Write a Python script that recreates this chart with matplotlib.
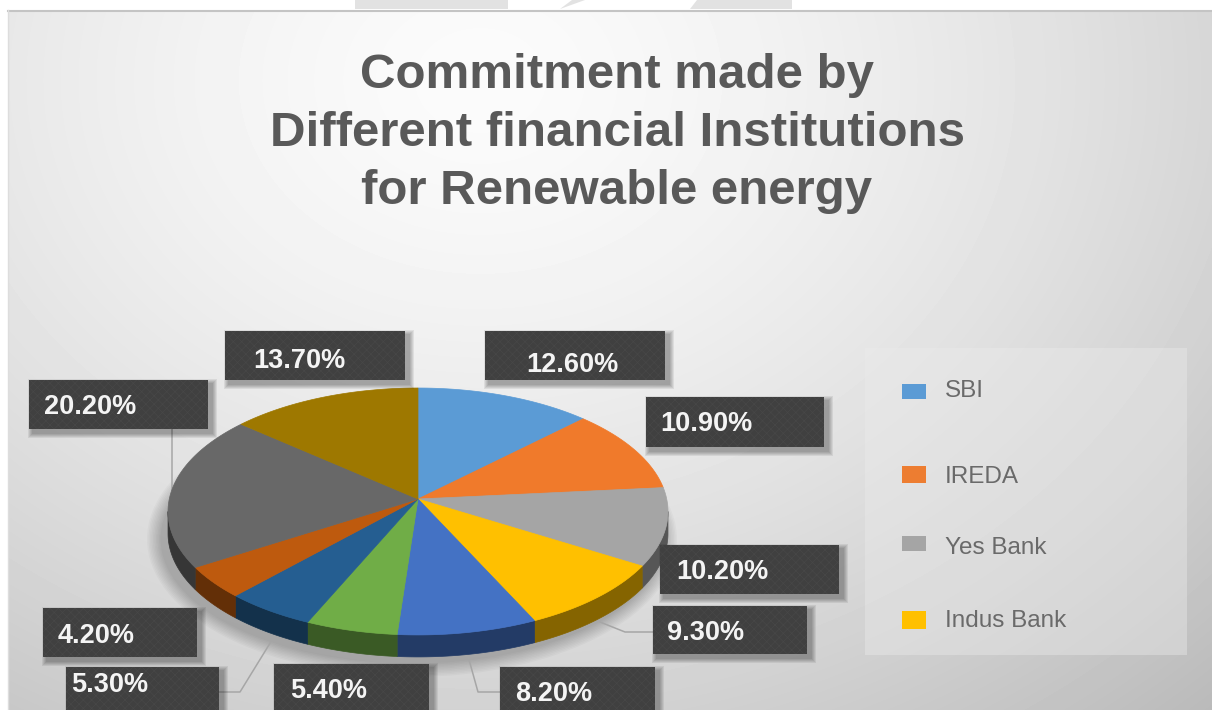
import numpy as np
import matplotlib
matplotlib.use("Agg")
import matplotlib.pyplot as plt
from matplotlib.patches import Polygon, Rectangle, Ellipse
from matplotlib.colors import to_rgb

plt.rcParams['font.family'] = ['Liberation Sans', 'DejaVu Sans']
plt.rcParams['hatch.linewidth'] = 0.5

# ---- data ----
title_lines = ["Commitment made by", "Different financial Institutions", "for Renewable energy"]
slice_values = [12.6, 10.9, 10.2, 9.3, 8.2, 5.4, 5.3, 4.2, 20.2, 13.7]
slice_colors = ["#5B9BD5", "#F07A2B", "#A5A5A5", "#FFC000", "#4472C4",
                "#70AD47", "#255E91", "#BE5A0E", "#686868", "#9E7800"]
legend_names = ["SBI", "IREDA", "Yes Bank", "Indus Bank"]
legend_colors = ["#5B9BD5", "#ED7D31", "#A5A5A5", "#FFC000"]

# ---- layout (pixel coordinates) ----
W, H = 1212, 710
CX, APEX_Y, DEPTH = 418, 499, 22
PX, PY, PERSP = 248.7, 122.2, 0.101
label_boxes = [(485, 331, 665, 380, 526, 365), (646, 397, 824, 447, 660, 424),
               (660, 545, 839, 594, 676, 572), (653, 606, 807, 654, 667, 633),
               (500, 667, 655, 716, 515, 694), (274, 664, 429, 716, 290, 691),
               (66, 667, 219, 716, 71, 685), (43, 608, 197, 657, 58, 636),
               (29, 380, 208, 429, 44, 407), (225, 331, 405, 380, 253, 361)]
leaders = [[(172, 429), (172, 490)],
           [(219, 692), (240, 692), (272, 640)],
           [(500, 692), (478, 692), (468, 656)],
           [(653, 632), (625, 632), (600, 622)]]
legend_rows = [(384, 399, 391), (466, 483, 477), (536, 551, 548), (611, 629, 621)]

fig = plt.figure(figsize=(W / 100, H / 100), dpi=100, facecolor="white")
ax = fig.add_axes([0, 0, 1, 1])
ax.set_xlim(0, W)
ax.set_ylim(H, 0)
ax.axis("off")

# background panel gradient
yy, xx = np.mgrid[10:H, 8:W]
r = np.sqrt(((xx - 480) / 900.0) ** 2 + ((yy - 80) / 720.0) ** 2)
shade = np.clip(251 - 50 * r ** 1.5, 0, 255) / 255.0
ax.imshow(shade, extent=(8, W, H, 10), cmap="gray", vmin=0, vmax=1,
          aspect="auto", zorder=0, interpolation="bilinear")
ax.set_xlim(0, W)
ax.set_ylim(H, 0)
ax.plot([8, W], [10.5, 10.5], color="#c4c4c4", lw=1.5, zorder=1)
ax.plot([8, 8], [10, H], color="#dddddd", lw=1, zorder=1)
# pale band pieces above the panel
ax.add_patch(Polygon([(355, 0), (508, 0), (508, 9), (355, 9)], fc="#e2e2e2", ec="none", zorder=1))
ax.add_patch(Polygon([(572, 0), (792, 0), (792, 9), (690, 9), (697, 0), (585, 0), (560, 9)],
                     fc="#e2e2e2", ec="none", zorder=1))

# title
for line, y in zip(title_lines, [76, 134, 192]):
    ax.text(617, y, line, ha="center", va="center", fontsize=35.5,
            fontweight="bold", color="#595959", zorder=5)

# soft pie shadow
for grow in range(30, 0, -3):
    ax.add_patch(Ellipse((CX - 6, 511 + DEPTH + 6), 2 * 250 + grow, 2 * 123 + grow,
                         fc="black", ec="none", alpha=0.022, zorder=2))

# pie geometry from the values
edges = np.cumsum([0] + slice_values) / sum(slice_values) * 2 * np.pi

def rim(t):
    w = 1 + PERSP * np.cos(t)
    return CX + PX * np.sin(t) / w, APEX_Y - PY * np.cos(t) / w

# side wall (the part of the rim facing the viewer)
wall_lo = np.arccos(-PERSP)
wall_hi = 2 * np.pi - wall_lo
for a, b, col in zip(edges[:-1], edges[1:], slice_colors):
    lo, hi = max(a, wall_lo), min(b, wall_hi)
    if hi <= lo:
        continue
    t = np.linspace(lo, hi, 60)
    x, y = rim(t)
    pts = np.r_[np.c_[x, y], np.c_[x[::-1], y[::-1] + DEPTH]]
    dark = tuple(c * 0.52 for c in to_rgb(col))
    ax.add_patch(Polygon(pts, fc=dark, ec=dark, lw=0.5, zorder=3))

# top face
for a, b, col in zip(edges[:-1], edges[1:], slice_colors):
    t = np.linspace(a, b, 80)
    x, y = rim(t)
    pts = np.r_[[(CX, APEX_Y)], np.c_[x, y]]
    ax.add_patch(Polygon(pts, fc=col, ec=col, lw=0.5, zorder=4))

# leader lines
for seg in leaders:
    xs, ys = zip(*seg)
    ax.plot(xs, ys, color="#a6a6a6", lw=1.1, zorder=3.5)

# data labels
for (x0, y0, x1, y1, tx, ty), v in zip(label_boxes, slice_values):
    for k in range(10, 0, -2):
        ax.add_patch(Rectangle((x0 + 4 - k / 2, y0 + 4 - k / 2), x1 - x0 + k, y1 - y0 + k,
                               fc="black", ec="none", alpha=0.07, zorder=6))
    ax.add_patch(Rectangle((x0, y0), x1 - x0, y1 - y0, fc="#404040",
                           ec="#474747", hatch="xxxx", lw=0, zorder=7))
    ax.text(tx, ty, f"{v:.2f}%", ha="left", va="center", fontsize=19.5,
            fontweight="bold", color="#f4f4f4", zorder=8)

# legend
ax.add_patch(Rectangle((865, 348), 322, 307, fc="#ececec", ec="none", alpha=0.4, zorder=2))
for name, col, (s0, s1, ty) in zip(legend_names, legend_colors, legend_rows):
    ax.add_patch(Rectangle((902, s0), 24, s1 - s0, fc=col, ec="none", zorder=3))
    ax.text(945, ty, name, ha="left", va="center", fontsize=17.5, color="#6a6a6a", zorder=3)

fig.savefig("out.png", dpi=100)
